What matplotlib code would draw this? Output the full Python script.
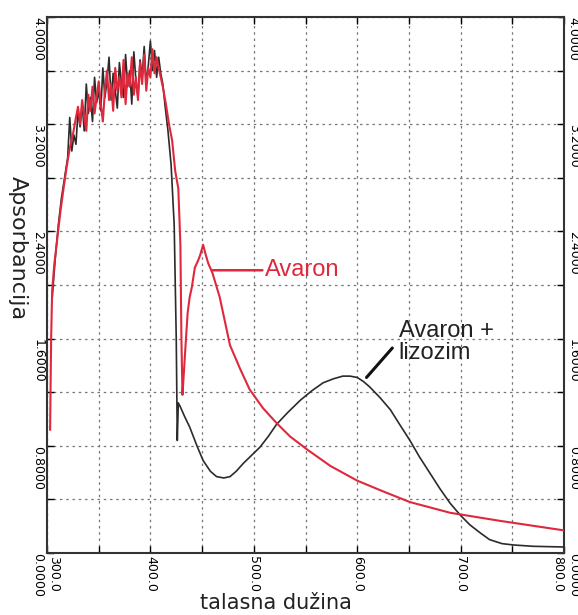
import numpy as np
import matplotlib
matplotlib.use("Agg")
import matplotlib.pyplot as plt

# talasna dužina (nm) i apsorbancija - Avaron
avaron_x = [303, 304, 305, 307, 310, 313, 316, 319, 322, 325, 328,
            330, 332, 334, 336, 338, 340, 342, 344, 346, 348, 350, 352, 354, 356,
            358, 360, 362, 364, 366, 368, 370, 372, 374, 376, 378, 380, 382, 384,
            386, 388, 390, 392, 394, 396, 398, 400, 402, 404, 406, 408, 410, 412,
            415, 418, 421, 424, 427, 429, 430, 431, 432, 434, 436, 438, 440, 443,
            446, 448, 451, 453, 456, 460, 467, 477, 487, 496, 509, 522, 535, 552,
            574, 600, 625, 651, 690, 738, 799]
avaron_y = [0.92, 1.60, 1.96, 2.15, 2.35, 2.55, 2.72, 2.88, 3.02, 3.12, 3.25,
            3.33, 3.20, 3.38, 3.25, 3.15, 3.42, 3.30, 3.48, 3.28, 3.40, 3.52, 3.35,
            3.22, 3.45, 3.60, 3.38, 3.50, 3.30, 3.62, 3.45, 3.55, 3.40, 3.68, 3.35,
            3.58, 3.48, 3.70, 3.42, 3.55, 3.38, 3.66, 3.50, 3.72, 3.45, 3.62, 3.55,
            3.76, 3.58, 3.70, 3.62, 3.55, 3.48,
            3.35, 3.20, 3.08, 2.85, 2.72, 2.30, 1.60, 1.18, 1.30, 1.55, 1.79, 1.91,
            1.98, 2.13, 2.18, 2.22, 2.30, 2.24, 2.16, 2.09, 1.91, 1.55, 1.37, 1.22,
            1.08, 0.97, 0.87, 0.77, 0.65, 0.54, 0.46, 0.38, 0.30, 0.24, 0.17]

# Avaron + lizozim
mix_x = [305, 308, 311, 314, 317, 320, 322, 324, 326, 328, 330, 332, 334, 336,
         338, 340, 342, 344, 346, 348, 350, 352, 354, 356, 358, 360, 362, 364,
         366, 368, 370, 372, 374, 376, 378, 380, 382, 384, 386, 388, 390, 392,
         394, 396, 398, 400, 402, 404, 406, 408, 410, 412, 414, 417, 420, 423,
         425, 426, 427, 429, 433, 438, 445, 451, 458, 464, 471, 477, 483, 490,
         498, 506, 514, 522, 533, 545, 556, 567, 577, 586, 593, 600, 606, 612,
         622, 632, 641, 651, 660, 670, 680, 690, 700, 709, 719, 728, 740, 751,
         770, 799]
mix_y = [1.90, 2.20, 2.45, 2.65, 2.80, 2.95, 3.25, 3.00, 3.12, 3.05, 3.30, 3.18,
         3.35, 3.15, 3.50, 3.28, 3.40, 3.22, 3.55, 3.36, 3.45, 3.30, 3.62, 3.40,
         3.52, 3.70, 3.38, 3.58, 3.45, 3.32, 3.66, 3.50, 3.40, 3.72, 3.48, 3.60,
         3.35, 3.74, 3.52, 3.40, 3.68, 3.55, 3.78, 3.50, 3.64, 3.82, 3.60, 3.75,
         3.55, 3.70, 3.58, 3.50, 3.35, 3.15, 2.90, 2.45, 1.60, 0.84, 1.12, 1.09,
         1.02, 0.94, 0.80, 0.69, 0.61, 0.57, 0.56, 0.57, 0.61, 0.67, 0.73, 0.79,
         0.87, 0.96, 1.05, 1.14, 1.21, 1.27, 1.30, 1.32, 1.32, 1.31, 1.28, 1.24,
         1.16, 1.07, 0.96, 0.84, 0.72, 0.60, 0.48, 0.37, 0.28, 0.21, 0.15, 0.10,
         0.07, 0.06, 0.05, 0.045]

x_ticks = [300, 400, 500, 600, 700, 800]
x_ticklabels = ["300.0", "400.0", "500.0", "600.0", "700.0", "800.0"]
y_ticks = [0.0, 0.8, 1.6, 2.4, 3.2, 4.0]
y_ticklabels = ["0.0000", "0.8000", "1.6000", "2.4000", "3.2000", "4.0000"]

fig = plt.figure(figsize=(5.78, 6.15), dpi=100)
ax = fig.add_axes([47 / 578, 1 - 553 / 615, 517 / 578, 536 / 615])

ax.plot(mix_x, mix_y, color="#2b2b2b", lw=1.2, zorder=3)
ax.plot(avaron_x, avaron_y, color="#e0283c", lw=1.5, zorder=4)

ax.set_xlim(300, 800)
ax.set_ylim(0, 4.0)

ax.set_xticks(x_ticks)
ax.set_xticklabels(x_ticklabels, rotation=270, va="top", ha="center", fontsize=9)
xlabs = ax.get_xticklabels()
xlabs[0].set_horizontalalignment("left")
xlabs[-1].set_horizontalalignment("right")
ax.set_xticks(np.arange(350, 800, 100), minor=True)
ax.set_yticks(y_ticks)
ax.set_yticklabels(y_ticklabels, rotation=270, va="top", fontsize=9)
ax.set_yticks(np.arange(0.4, 4.0, 0.8), minor=True)

ax.tick_params(which="both", direction="in", length=5, width=1,
               top=True, right=True, labelright=True, pad=2)
ax.grid(which="both", color="#777777", lw=0.9, ls=(0, (2, 3)))
for s in ax.spines.values():
    s.set_linewidth(1.5)
    s.set_color("#333333")

# oznake krivih
ax.annotate("Avaron", xy=(460, 2.11), xytext=(511, 2.11),
            color="#e0283c", fontsize=17, family="Liberation Sans", va="center",
            arrowprops=dict(arrowstyle="-", color="#e0283c", lw=1.8,
                            shrinkA=0, shrinkB=0))
ax.annotate("", xy=(609, 1.31), xytext=(634, 1.53),
            arrowprops=dict(arrowstyle="-", color="#111111", lw=2.2,
                            shrinkA=0, shrinkB=0))
ax.text(640, 1.74, "Avaron +\nlizozim", color="#222222", fontsize=17,
        family="Liberation Sans", va="top", linespacing=1.0)

fig.text(18 / 578, 1 - 248 / 615, "Apsorbancija", rotation=270,
         ha="center", va="center", fontsize=16, color="#222222")
fig.text(276 / 578, 1 - 603 / 615, "talasna dužina", ha="center", va="center",
         fontsize=15, color="#222222")

fig.savefig("out.png", dpi=100, facecolor="white")
